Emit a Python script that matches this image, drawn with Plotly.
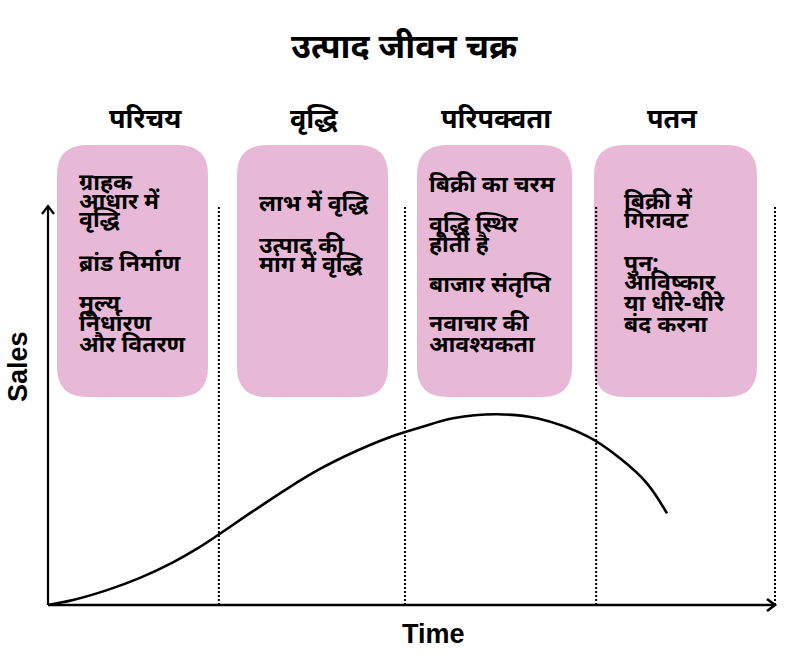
import plotly.graph_objects as go

# ---------------- data ----------------
title_text = "उत्पाद जीवन चक्र"
stages = ["परिचय", "वृद्धि", "परिपक्वता", "पतन"]
stage_bounds = [2.35, 4.91, 7.54, 10.0]  # time units where each stage ends

time_vals = [0.0, 0.344, 0.812, 1.265, 1.719, 2.050, 2.339, 2.820, 3.287, 3.741, 4.195,
             4.663, 5.117, 5.571, 6.176, 6.726, 7.428, 7.868, 8.239, 8.514]
sales_vals = [0.0, 0.125, 0.373, 0.679, 1.068, 1.411, 1.754, 2.351, 2.912, 3.409, 3.822,
              4.180, 4.446, 4.679, 4.779, 4.679, 4.218, 3.677, 3.050, 2.298]

stage_notes = [
    [["ग्राहक", "आधार में", "वृद्धि"], ["ब्रांड निर्माण"], ["मूल्य", "निर्धारण", "और वितरण"]],
    [["लाभ में वृद्धि"], ["उत्पाद की", "मांग में वृद्धि"]],
    [["बिक्री का चरम"], ["वृद्धि स्थिर", "होती है"], ["बाजार संतृप्ति"], ["नवाचार की", "आवश्यकता"]],
    [["बिक्री में", "गिरावट"], ["पुन:", "आविष्कार", "या धीरे-धीरे", "बंद करना"]],
]
x_label = "Time"
y_label = "Sales"
axis_max_time = 10.0
axis_max_sales = 10.0

# ---------------- layout helpers ----------------
W, H = 800, 663
ORIG_PX, ORIG_PY = 48, 605
PX_PER_T = 72.7
PX_PER_S = 39.9
x_range = [-ORIG_PX / PX_PER_T, (W - ORIG_PX) / PX_PER_T]
y_range = [-(H - ORIG_PY) / PX_PER_S, ORIG_PY / PX_PER_S]


def px(x):
    return x / W


def py(y):
    return 1 - y / H


FONT = "Noto Sans, Noto Sans Devanagari, Lohit Devanagari, sans-serif"
LATIN = "Liberation Sans, Arial, sans-serif"
PINK = "#E8B9D6"

fig = go.Figure()

# curve
fig.add_trace(go.Scatter(x=time_vals, y=sales_vals, mode="lines",
                         line=dict(color="black", width=2.6, shape="spline", smoothing=1.0),
                         hoverinfo="skip", showlegend=False))

shapes = []
annotations = []

# boxes (rounded)
box_px = [(57, 208), (237, 388), (417, 572), (594, 757)]
box_top, box_bot, rad = 145, 397, 30
for (x0, x1) in box_px:
    rx, ry = rad / W, rad / H
    X0, X1, Y0, Y1 = px(x0), px(x1), py(box_bot), py(box_top)
    path = (f"M {X0+rx},{Y1} L {X1-rx},{Y1} Q {X1},{Y1} {X1},{Y1-ry} "
            f"L {X1},{Y0+ry} Q {X1},{Y0} {X1-rx},{Y0} L {X0+rx},{Y0} "
            f"Q {X0},{Y0} {X0},{Y0+ry} L {X0},{Y1-ry} Q {X0},{Y1} {X0+rx},{Y1} Z")
    shapes.append(dict(type="path", path=path, xref="paper", yref="paper",
                       fillcolor=PINK, line=dict(width=0), layer="below"))

# dotted stage boundaries
for b in stage_bounds:
    shapes.append(dict(type="line", xref="x", yref="y", x0=b, x1=b, y0=0, y1=axis_max_sales,
                       line=dict(color="black", width=2, dash="2px,2px")))

# axes
shapes.append(dict(type="line", xref="x", yref="y", x0=0, x1=axis_max_time, y0=0, y1=0,
                   line=dict(color="black", width=2.6)))
shapes.append(dict(type="line", xref="x", yref="y", x0=0, x1=0, y0=0, y1=axis_max_sales,
                   line=dict(color="black", width=2.2)))
# arrow heads (pixel-drawn chevrons)
tipx, tipy = ORIG_PX + axis_max_time * PX_PER_T, ORIG_PY
shapes.append(dict(type="path", xref="paper", yref="paper",
                   path=f"M {px(tipx-8)},{py(tipy-6)} L {px(tipx)},{py(tipy)} L {px(tipx-8)},{py(tipy+6)}",
                   line=dict(color="black", width=2.6)))
tipx, tipy = ORIG_PX, ORIG_PY - axis_max_sales * PX_PER_S
shapes.append(dict(type="path", xref="paper", yref="paper",
                   path=f"M {px(tipx-6)},{py(tipy+8)} L {px(tipx)},{py(tipy)} L {px(tipx+6)},{py(tipy+8)}",
                   line=dict(color="black", width=2.2)))

# title
annotations.append(dict(text=title_text, x=px(404), y=py(45), xref="paper", yref="paper",
                        showarrow=False, xanchor="center", yanchor="middle",
                        font=dict(family=FONT, size=34, color="black", weight="bold")))
# stage headers
header_x = [145, 314, 496, 672]
for name, hx in zip(stages, header_x):
    annotations.append(dict(text=name, x=px(hx), y=py(117), xref="paper", yref="paper",
                            showarrow=False, xanchor="center", yanchor="middle",
                            font=dict(family=FONT, size=27, color="black", weight="bold")))

# notes in boxes (line positions in px)
note_left = [77, 257, 427, 622]
note_line_y = [
    [[181, 200, 218], [262], [302, 322, 343]],
    [[202], [244, 263]],
    [[183], [223, 243], [283], [322, 343]],
    [[200, 219], [262, 281, 302, 323]],
]
for i, groups in enumerate(stage_notes):
    for g, ys in zip(groups, note_line_y[i]):
        for line, yy in zip(g, ys):
            annotations.append(dict(text=line, x=px(note_left[i]), y=py(yy), xref="paper", yref="paper",
                                    showarrow=False, xanchor="left", yanchor="middle",
                                    font=dict(family=FONT, size=23, color="black", weight="bold")))

# axis labels
annotations.append(dict(text=x_label, x=px(433), y=py(634), xref="paper", yref="paper",
                        showarrow=False, xanchor="center", yanchor="middle",
                        font=dict(family=LATIN, size=27, color="black", weight="bold")))
annotations.append(dict(text=y_label, x=px(18), y=py(367), xref="paper", yref="paper",
                        showarrow=False, xanchor="center", yanchor="middle", textangle=-90,
                        font=dict(family=LATIN, size=27, color="black", weight="bold")))

fig.update_layout(
    width=W, height=H, margin=dict(l=0, r=0, t=0, b=0),
    paper_bgcolor="white", plot_bgcolor="white",
    xaxis=dict(range=x_range, visible=False, fixedrange=True),
    yaxis=dict(range=y_range, visible=False, fixedrange=True),
    shapes=shapes, annotations=annotations, showlegend=False,
)

fig.write_html("out.html", config={"displayModeBar": False},
               post_script="document.body.style.margin='0';")
